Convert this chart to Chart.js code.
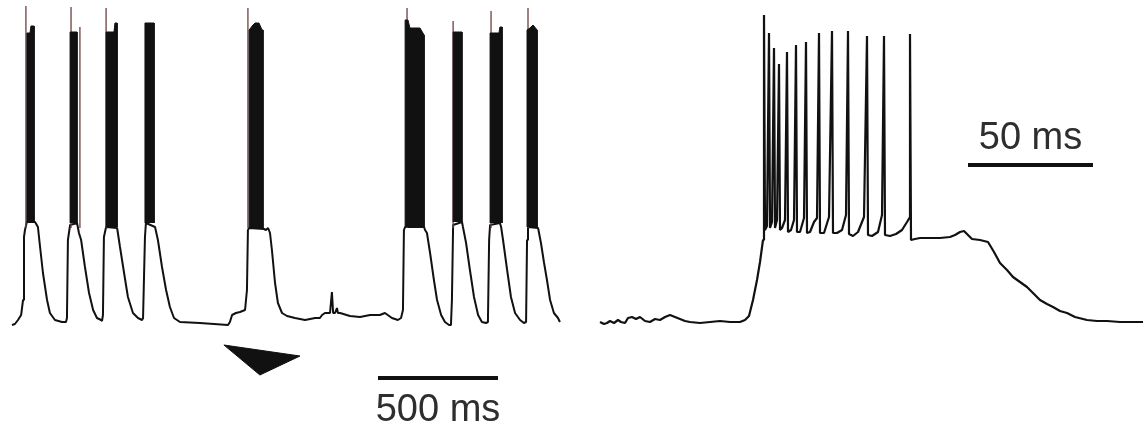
<!DOCTYPE html>
<html><head><meta charset="utf-8">
<script src="https://cdn.jsdelivr.net/npm/chart.js@4.4.1/dist/chart.umd.min.js"></script>
<style>
html,body{margin:0;padding:0;background:#fff;overflow:hidden;}
#wrap{position:relative;width:1143px;height:429px;background:#fff;}
canvas{position:absolute;top:0;}
</style></head><body>
<div id="wrap">
<canvas id="left" width="580" height="429" style="left:0;width:580px;height:429px"></canvas>
<canvas id="right" width="563" height="429" style="left:580px;width:563px;height:429px"></canvas>
</div>
<script>
// ---- Left recording: slow-wave bursting (time in ms, membrane potential in mV) ----
const leftTime = [50,62,75,88,96,100,104,112,146,158,
  167,179,196,208,229,258,275,279,283,292,
  321,329,338,354,371,388,404,421,425,429,
  433,442,488,500,517,533,554,575,592,596,
  604,608,646,658,675,692,708,725,750,833,
  950,958,967,983,1000,1021,1029,1033,1038,1100,
  1108,1117,1125,1133,1146,1158,1175,1196,1229,1271,
  1313,1333,1342,1354,1375,1383,1388,1396,1404,1408,
  1417,1458,1500,1542,1583,1604,1633,1658,1671,1679,
  1683,1688,1767,1771,1779,1792,1808,1821,1838,1854,
  1871,1879,1883,1888,1925,1929,1942,1958,1975,1992,
  2008,2025,2033,2038,2042,2083,2088,2096,2113,2129,
  2146,2167,2183,2192,2196,2200,2242,2254,2267,2279,
  2292,2308,2325,2333];
const leftVolt = [-61.25,-61,-60,-58.75,-55,-39.25,-37.5,-35.5,-35.5,-36.75,
  -41.75,-48.25,-55,-58.25,-60,-60.5,-60.5,-59.5,-40,-36.25,
  -35.75,-38.25,-40,-46.75,-53.25,-57.5,-59.5,-60,-60.25,-58.75,
  -39.25,-36.75,-37,-41.75,-48.25,-54.25,-58.25,-59.5,-60,-59.5,
  -39.25,-35.75,-36.75,-40,-46.75,-52.5,-56.75,-59.5,-60.5,-60.75,
  -61.25,-60.5,-58.75,-58.25,-58,-57.5,-52.5,-37.5,-37,-37.25,
  -37.5,-37,-38.25,-42.5,-50.75,-55.75,-58.25,-59,-59.5,-60,
  -59.5,-59.5,-58.75,-58.25,-58.25,-53,-58.25,-58.25,-57,-58.25,
  -58.25,-59,-59.25,-58.75,-58.75,-58.25,-59.5,-60,-59.5,-57.5,
  -37.5,-36.75,-36.75,-37.5,-38.25,-43.25,-50,-55,-58.75,-60.5,
  -61.25,-61.25,-55,-36.25,-35.5,-36.75,-40.75,-47.5,-54.25,-58.75,
  -60.5,-60.75,-60.5,-40,-36.25,-35.75,-36.75,-40,-47.5,-54.25,
  -58.25,-60,-60.75,-60.5,-40,-36.75,-37,-40.75,-45.75,-50,
  -55,-58.25,-59.5,-60.5];

// first (tallest) spike of each burst
const leftSpikeTime = [108, 296, 333, 442, 1033, 1696, 1888, 2046, 2200];
const leftSpikePeak = [18.5, 18.25, 13.25, 18, 18, 18, 14.75, 17.25, 18];
const leftSpikeBase = -37;

// high-frequency burst envelopes (top contour of the dense spike train)
const burstTopTime = [
  [112,125,129,142],
  [292,321],
  [442,475,479,488],
  [604,642],
  [1038,1054,1063,1079,1092,1096],
  [1688,1700,1708,1750,1767],
  [1888,1925],
  [2042,2079,2083,2092],
  [2196,2208,2221,2238]];
const burstTopVolt = [
  [11.75,11.75,13.5,13.5],
  [12,12],
  [12,12,14.25,14.25],
  [14.25,14.25],
  [12.5,13.75,14.25,14.25,12.5,12.5],
  [15,15,13,13,11.25],
  [12,12],
  [11.75,11.75,13.25,13.25],
  [12.5,13,13.75,12.5]];
const burstBase = [-35.5,-35.75,-36.75,-35.75,-37,-36.75,-35.5,-35.75,-36.75];

// stimulus arrowhead (ms, mV)
const arrowTime = [933, 1083, 1250];
const arrowVolt = [-66.25, -73.75, -69];

// scale bars
const leftBarTime = [1575, 2075];   // 500 ms
const leftBarVolt = -74.5;
const leftBarLabel = "500 ms";

// ---- Right recording: single burst, expanded time base ----
const rightTime = [8,9.6,10.8,12,13.6,15.2,16.4,18,19.2,20.8,
  22.4,24,26,28,30,32,34,36,38,40,
  42,44,48,52,56,60,64,66,67.6,69.2,
  70.8,72,73.2,73.6,
  73.6,74, 74.8,75.6,76, 76.8,77.6,78, 78.8,79.6,80,
  80.8,82,82.8,83.2, 84.4,85.6,86.4,86.8, 88,89.6,90.4,90.8,
  92,93.6,94.8,95.6,96, 97.6,99.6,100.8,101.2,
  102.8,104.8,106.4,107.2,107.6, 109.2,111.2,113.6,114.8,115.2,
  116.8,119.2,120.8,121.6,122, 124,126.4,128.8,130.8,132,132,132.4,
  134,136,140,144,148,150,152,153.6,155.2,156.8,
  160,163.2,165.6,168,170.8,173.2,176,178.8,181.6,184,
  186.8,189.2,192,194.8,198,202.8,206.8,210.8,216,225.2];
const rightVolt = [-60.5,-61,-60.75,-60.25,-60.75,-60,-60.5,-60.75,-59.5,-59.25,
  -59.75,-59.25,-60.25,-60.5,-59.75,-60,-59.25,-58.75,-59.25,-59.75,
  -60.25,-60.5,-60.75,-60.5,-60.25,-60.5,-60.5,-60,-59,-55,
  -50,-45.5,-40,-38,
  16.25,-37.5, -36.5,11.75,-37, -35.5,8,-37, -35,4,-37.5,
  -37,-35,7,-38, -37.5,-35,8.75,-38, -38,-34.5,9.5,-38.25,
  -38,-35.5,-34.5,11.75,-38.25, -38.25,-34.25,12.25,-38.25,
  -38.25,-37.5,-33.75,12.25,-38.5, -39,-38,-34.25,11,-38.75,
  -39,-38,-33.75,11,-38.75, -39,-38.5,-37.5,-35.5,-34.25,11.5,-40,
  -39.75,-39.5,-39.5,-39.5,-39.25,-38.75,-38,-37.75,-38.75,-39.75,
  -40,-40.5,-43,-45.75,-47.5,-49.25,-50.5,-51.75,-53.5,-55,
  -56,-56.75,-57.75,-58.25,-59.25,-60,-60.25,-60.25,-60.5,-60.5];

const rightBarTime = [155.2, 205.2];  // 50 ms
const rightBarVolt = -21.25;
const rightBarLabel = "50 ms";

// ---- build ----
const V_MIN = -87.25, V_MAX = 20;
const INK = '#111111';
const zip = (ts, vs) => ts.map((t, i) => ({x: t, y: vs[i]}));

function labelPlugin(text, barT, barV, dy) {
  return {
    id: 'scaleLabel',
    afterDatasetsDraw(chart) {
      const ctx = chart.ctx, xs = chart.scales.x, ys = chart.scales.y;
      const cx = (xs.getPixelForValue(barT[0]) + xs.getPixelForValue(barT[1])) / 2;
      const cy = ys.getPixelForValue(barV) + dy;
      ctx.save();
      ctx.font = '38px "Liberation Sans", Arial, sans-serif';
      ctx.fillStyle = '#2e2e2e';
      ctx.textAlign = 'center';
      ctx.textBaseline = 'alphabetic';
      ctx.fillText(text, cx, cy);
      ctx.restore();
    }
  };
}

function baseOptions(xmax) {
  return {
    responsive: false, animation: false, devicePixelRatio: 1,
    layout: {padding: 0},
    plugins: {legend: {display: false}, tooltip: {enabled: false}},
    elements: {point: {radius: 0, hoverRadius: 0}, line: {tension: 0, borderJoinStyle: 'bevel', borderCapStyle: 'butt'}},
    scales: {
      x: {type: 'linear', min: 0, max: xmax, display: false},
      y: {type: 'linear', min: V_MIN, max: V_MAX, display: false}
    }
  };
}

// left datasets
const leftDatasets = [];
burstTopTime.forEach((ts, i) => {
  const pts = [{x: ts[0], y: burstBase[i]}].concat(zip(ts, burstTopVolt[i]), [{x: ts[ts.length - 1], y: burstBase[i]}]);
  leftDatasets.push({data: pts, borderColor: INK, borderWidth: 1, backgroundColor: INK, fill: {value: burstBase[i]}});
});
const spikePts = [];
leftSpikeTime.forEach((t, i) => {
  spikePts.push({x: t, y: leftSpikeBase}, {x: t, y: leftSpikePeak[i]}, {x: t + 0.1, y: null});
});
leftDatasets.push({data: spikePts, borderColor: '#6e4040', borderWidth: 1.3, fill: false, spanGaps: false});
leftDatasets.push({data: zip(leftTime, leftVolt), borderColor: INK, borderWidth: 2, fill: false});
// arrowhead: long upper edge, then the lower edges filled up to it
const arrowTopIdx = leftDatasets.length;
leftDatasets.push({data: [{x: arrowTime[0], y: arrowVolt[0]}, {x: arrowTime[2], y: arrowVolt[2]}], borderColor: INK, borderWidth: 1, fill: false});
leftDatasets.push({data: zip(arrowTime, arrowVolt), borderColor: INK, borderWidth: 1, backgroundColor: INK, fill: arrowTopIdx});
leftDatasets.push({data: [{x: leftBarTime[0], y: leftBarVolt}, {x: leftBarTime[1], y: leftBarVolt}], borderColor: INK, borderWidth: 4, fill: false});

new Chart(document.getElementById('left'), {
  type: 'line',
  data: {datasets: leftDatasets},
  options: baseOptions(2416.67),
  plugins: [labelPlugin(leftBarLabel, leftBarTime, leftBarVolt, 43)]
});

// right datasets
const rightDatasets = [
  {data: zip(rightTime, rightVolt), borderColor: INK, borderWidth: 2.2, fill: false},
  {data: [{x: rightBarTime[0], y: rightBarVolt}, {x: rightBarTime[1], y: rightBarVolt}], borderColor: INK, borderWidth: 4, fill: false}
];
new Chart(document.getElementById('right'), {
  type: 'line',
  data: {datasets: rightDatasets},
  options: baseOptions(225.2),
  plugins: [labelPlugin(rightBarLabel, rightBarTime, rightBarVolt, -16)]
});
</script>
</body></html>
